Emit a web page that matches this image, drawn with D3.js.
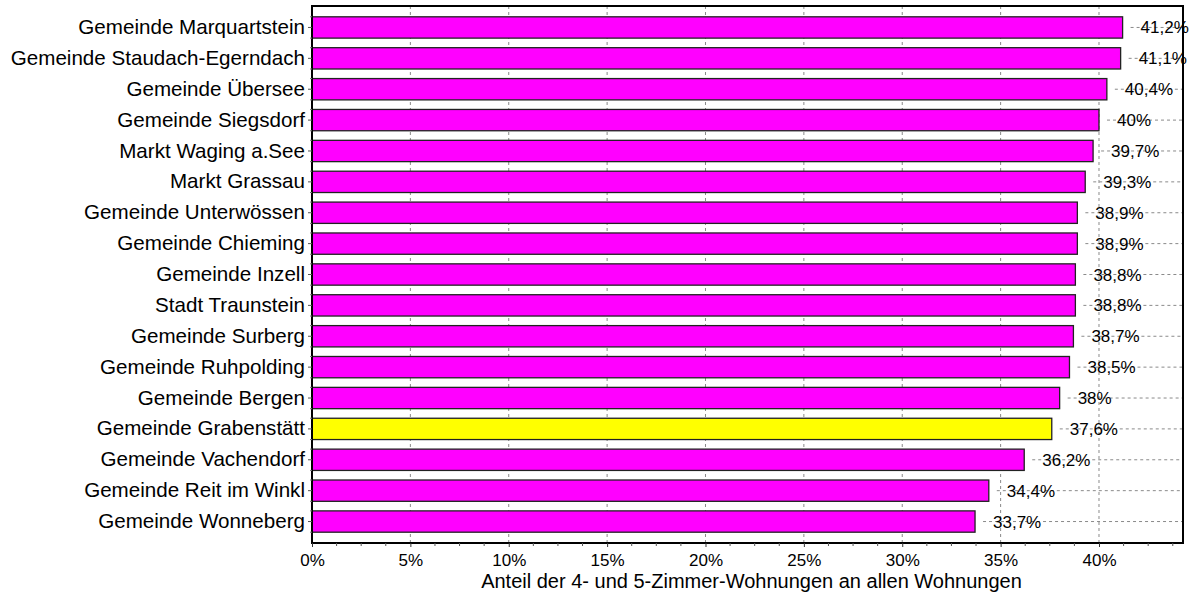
<!DOCTYPE html>
<html>
<head>
<meta charset="utf-8">
<script src="https://cdn.jsdelivr.net/npm/d3@7"></script>
<style>
  html, body { margin: 0; padding: 0; background: #fff; }
  svg { display: block; font-family: "Liberation Sans", Arial, sans-serif; }
</style>
</head>
<body>
<svg id="chart" width="1195" height="596"></svg>
<script>
// Share of 4- and 5-room dwellings among all dwellings, by municipality
const municipalities = [
  "Gemeinde Marquartstein",
  "Gemeinde Staudach-Egerndach",
  "Gemeinde Übersee",
  "Gemeinde Siegsdorf",
  "Markt Waging a.See",
  "Markt Grassau",
  "Gemeinde Unterwössen",
  "Gemeinde Chieming",
  "Gemeinde Inzell",
  "Stadt Traunstein",
  "Gemeinde Surberg",
  "Gemeinde Ruhpolding",
  "Gemeinde Bergen",
  "Gemeinde Grabenstätt",
  "Gemeinde Vachendorf",
  "Gemeinde Reit im Winkl",
  "Gemeinde Wonneberg"
];
const shares = [41.2, 41.1, 40.4, 40, 39.7, 39.3, 38.9, 38.9, 38.8, 38.8, 38.7, 38.5, 38, 37.6, 36.2, 34.4, 33.7];
const highlighted = ["Gemeinde Grabenstätt"];
const xTickValues = [0, 5, 10, 15, 20, 25, 30, 35, 40];
const xAxisTitle = "Anteil der 4- und 5-Zimmer-Wohnungen an allen Wohnungen";

const rows = municipalities.map((name, i) => ({ name, value: shares[i] }));

const svg = d3.select("#chart");
const plot = { left: 312, right: 1183, top: 6, bottom: 543 };

const x = d3.scaleLinear().domain([0, 44.27]).range([plot.left, plot.right]);
const y = d3.scaleBand()
  .domain(municipalities)
  .range([plot.top, plot.bottom])
  .paddingInner(0.31)
  .paddingOuter(0.35);

const fmt = v => d3.format(".1~f")(v).replace(".", ",") + "%";
const gridColor = "#8a8a8a";

// vertical dashed grid
svg.append("g").selectAll("line")
  .data(xTickValues.filter(v => v > 0))
  .join("line")
  .attr("x1", d => x(d)).attr("x2", d => x(d))
  .attr("y1", plot.top).attr("y2", plot.bottom)
  .attr("stroke", gridColor).attr("stroke-width", 1)
  .attr("stroke-dasharray", "3,3");

// horizontal dashed guides to the right of each bar
svg.append("g").selectAll("line")
  .data(rows)
  .join("line")
  .attr("x1", d => x(d.value) + 8).attr("x2", plot.right)
  .attr("y1", d => y(d.name) + y.bandwidth() / 2)
  .attr("y2", d => y(d.name) + y.bandwidth() / 2)
  .attr("stroke", gridColor).attr("stroke-width", 1)
  .attr("stroke-dasharray", "3,3");

// bars
svg.append("g").selectAll("rect")
  .data(rows)
  .join("rect")
  .attr("x", x(0))
  .attr("y", d => y(d.name))
  .attr("width", d => x(d.value) - x(0))
  .attr("height", y.bandwidth())
  .attr("fill", d => highlighted.includes(d.name) ? "#ffff00" : "#ff00ff")
  .attr("stroke", "#222")
  .attr("stroke-width", 1.3);

// value labels
svg.append("g").selectAll("text")
  .data(rows)
  .join("text")
  .attr("x", d => x(d.value) + 18)
  .attr("y", d => y(d.name) + y.bandwidth() / 2 + 6)
  .attr("font-size", 17)
  .attr("fill", "#000")
  .text(d => fmt(d.value));

// plot frame
svg.append("rect")
  .attr("x", plot.left).attr("y", plot.top)
  .attr("width", plot.right - plot.left).attr("height", plot.bottom - plot.top)
  .attr("fill", "none").attr("stroke", "#000").attr("stroke-width", 2);

// x axis
const xAxis = d3.axisBottom(x)
  .tickValues(xTickValues)
  .tickFormat(d => d + "%")
  .tickSize(4)
  .tickPadding(7);
const gx = svg.append("g")
  .attr("transform", `translate(0,${plot.bottom})`)
  .call(xAxis);
gx.select(".domain").remove();
gx.selectAll("text").attr("font-size", 17).attr("fill", "#000").attr("font-family", "Liberation Sans, Arial, sans-serif");
gx.selectAll("line").attr("stroke", "#333");

// minor x ticks
svg.append("g").selectAll("line")
  .data(d3.range(1.25, 44.27, 1.25).filter(v => Math.abs(v / 5 - Math.round(v / 5)) > 1e-6))
  .join("line")
  .attr("x1", d => x(d)).attr("x2", d => x(d))
  .attr("y1", plot.bottom).attr("y2", plot.bottom + 3)
  .attr("stroke", "#555");

// y axis
const yAxis = d3.axisLeft(y).tickSize(4).tickPadding(3);
const gy = svg.append("g")
  .attr("transform", `translate(${plot.left},0)`)
  .call(yAxis);
gy.select(".domain").remove();
gy.selectAll("text").attr("font-size", 20.6).attr("fill", "#000").attr("font-family", "Liberation Sans, Arial, sans-serif");
gy.selectAll("line").attr("stroke", "#555");

// minor y ticks at bar edges
const edges = [];
rows.forEach(d => { edges.push(y(d.name)); edges.push(y(d.name) + y.bandwidth()); });
svg.append("g").selectAll("line")
  .data(edges)
  .join("line")
  .attr("x1", plot.left - 2).attr("x2", plot.left)
  .attr("y1", d => d).attr("y2", d => d)
  .attr("stroke", "#777");

// axis title
svg.append("text")
  .attr("x", (plot.left + plot.right) / 2 + 4)
  .attr("y", 588)
  .attr("text-anchor", "middle")
  .attr("font-size", 20)
  .attr("fill", "#000")
  .text(xAxisTitle);
</script>
</body>
</html>
